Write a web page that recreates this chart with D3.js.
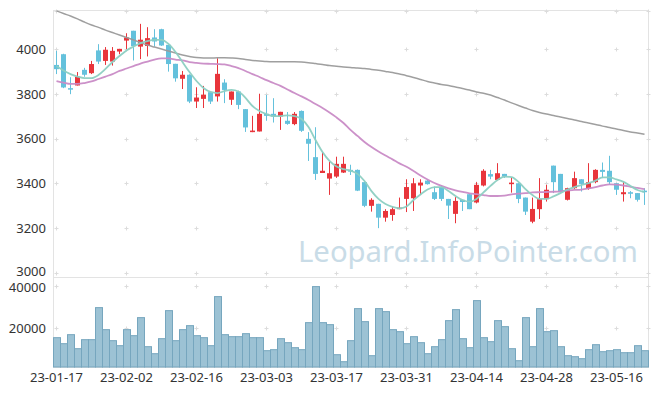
<!DOCTYPE html>
<html>
<head>
<meta charset="utf-8">
<script src="https://cdn.jsdelivr.net/npm/d3@7"></script>
<style>
  body { margin: 0; background: #fff; }
  text { font-family: "Noto Sans", sans-serif; }
</style>
</head>
<body>
<div id="chart"></div>
<script>
// trading days (yy-mm-dd)
const dates = [
  "23-01-17","23-01-18","23-01-19","23-01-20","23-01-25","23-01-26","23-01-27","23-01-30","23-01-31",
  "23-02-01","23-02-02","23-02-03","23-02-06","23-02-07","23-02-08","23-02-09","23-02-10","23-02-13","23-02-14",
  "23-02-15","23-02-16","23-02-17","23-02-20","23-02-21","23-02-22","23-02-23","23-02-24","23-02-27","23-02-28",
  "23-03-02","23-03-03","23-03-06","23-03-07","23-03-08","23-03-09","23-03-10","23-03-13","23-03-14","23-03-15",
  "23-03-16","23-03-17","23-03-20","23-03-21","23-03-22","23-03-23","23-03-24","23-03-27","23-03-28","23-03-29",
  "23-03-30","23-03-31","23-04-03","23-04-04","23-04-05","23-04-06","23-04-07","23-04-10","23-04-11","23-04-12",
  "23-04-13","23-04-14","23-04-17","23-04-18","23-04-19","23-04-20","23-04-21","23-04-24","23-04-25","23-04-26",
  "23-04-27","23-04-28","23-05-02","23-05-03","23-05-04","23-05-08","23-05-09","23-05-10","23-05-11","23-05-12",
  "23-05-15","23-05-16","23-05-17","23-05-18","23-05-19","23-05-22"
];

const opens = [3930,3978,3826,3838,3908,3893,3995,3948,3945,3990, 4039,4083,4012,4015,4053,4090,4020,3935,3868,3886,
  3766,3778,3808,3789,3851,3774,3811,3732,3629,3632, 3711,3711,3699,3680,3665,3724,3599,3517,3446,3421,
  3430,3448,3460,3460,3405,3299,3308,3246,3258,3284, 3330,3333,3390,3412,3360,3383,3330,3263,3326,3351,
  3314,3390,3441,3415,3442,3396,3400,3336,3228,3284, 3329,3479,3442,3326,3378,3418,3375,3405,3460,3456,
  3400,3351,3360,3356,3367];
const highs = [3993,3980,3875,3898,3917,3948,4023,4010,4010,4002, 4072,4083,4114,4099,4090,4092,4020,3935,3903,3888,
  3830,3836,3808,3960,3866,3811,3815,3732,3702,3801, 3796,3781,3720,3719,3719,3726,3629,3651,3539,3497,
  3519,3519,3483,3462,3405,3333,3308,3284,3296,3336, 3418,3423,3418,3418,3385,3392,3330,3338,3326,3351,
  3405,3463,3460,3490,3442,3427,3400,3336,3336,3423, 3393,3479,3442,3380,3452,3418,3490,3463,3493,3523,
  3400,3408,3365,3356,3378];
const lows = [3889,3826,3799,3838,3877,3889,3934,3930,3927,3978, 4001,3950,3956,3968,4012,4015,3900,3855,3822,3759,
  3737,3737,3755,3766,3759,3751,3732,3630,3629,3632, 3680,3672,3639,3662,3660,3630,3500,3415,3446,3348,
  3424,3446,3437,3365,3293,3273,3199,3228,3232,3284, 3271,3276,3348,3394,3325,3321,3240,3221,3276,3284,
  3310,3386,3418,3413,3424,3358,3311,3258,3221,3240, 3318,3356,3358,3323,3375,3363,3371,3400,3423,3393,
  3348,3318,3333,3318,3303];
const closes = [3911,3829,3820,3877,3886,3934,3945,3998,3993,4002, 4053,4014,4043,4050,4035,4017,3934,3870,3886,3766,
  3784,3797,3766,3890,3818,3811,3751,3650,3636,3711, 3702,3699,3720,3666,3711,3635,3577,3442,3456,3445,
  3487,3487,3452,3367,3299,3326,3246,3276,3284,3291, 3383,3400,3403,3396,3330,3330,3300,3321,3316,3284,
  3393,3456,3430,3445,3430,3403,3330,3273,3285,3329, 3371,3405,3360,3378,3423,3397,3405,3460,3451,3405,
  3371,3360,3353,3326,3360];
const volumes = [15360,12480,16800,10080,14400,14400,29760,19200,13920,11520, 19200,16320,24960,11040,7680,14880,28320,13920,19200,21120,
  16320,15360,11520,35040,16800,15840,15840,17280,15360,15360, 9120,9600,14880,12960,10560,9600,22560,39840,22560,21600,
  7200,3840,13920,29280,23040,6720,29280,27840,19200,18240, 12480,15840,12960,7680,11040,14400,23520,28800,14880,10560,
  33120,15360,13440,23520,20640,10080,4320,24960,11040,29280, 18240,18720,11040,6720,6240,5280,9600,12000,8640,9120,
  9600,8160,8160,11520,9120];

// moving averages as drawn
const ma5 = [3925,3905,3889,3878,3871,3871,3885,3912,3943,3970, 3995,4012,4028,4037,4042,4042,4024,3988,3943,3898,
  3858,3827,3809,3804,3813,3818,3811,3782,3746,3724, 3710,3701,3701,3704,3701,3688,3652,3594,3540,3500,
  3475,3463,3457,3442,3410,3365,3330,3307,3294,3288, 3296,3325,3350,3372,3383,3383,3365,3343,3325,3318,
  3330,3359,3388,3415,3430,3428,3406,3374,3347,3330, 3330,3341,3356,3372,3383,3392,3401,3412,3426,3426,
  3417,3406,3388,3370,3360];
const ma20 = [3858,3851,3845,3845,3849,3856,3867,3878,3889,3903, 3914,3925,3936,3945,3954,3959,3959,3954,3950,3943,
  3939,3936,3935,3934,3932,3925,3916,3903,3889,3876, 3862,3849,3836,3820,3804,3789,3773,3755,3737,3717,
  3695,3670,3639,3612,3585,3562,3542,3524,3507,3489, 3474,3455,3435,3417,3401,3388,3377,3368,3361,3355,
  3351,3347,3343,3343,3345,3350,3354,3356,3359,3360, 3361,3362,3364,3368,3370,3372,3377,3383,3390,3395,
  3394,3390,3384,3379,3374];
const ma60 = [4172,4160,4149,4136,4122,4109,4098,4086,4075,4064, 4053,4042,4030,4019,4010,4001,3992,3983,3974,3968,
  3963,3961,3961,3962,3962,3961,3959,3954,3950,3948, 3945,3944,3944,3944,3944,3943,3940,3936,3932,3927,
  3924,3921,3919,3916,3914,3910,3906,3901,3896,3889, 3882,3874,3865,3856,3849,3842,3838,3831,3824,3818,
  3809,3803,3795,3784,3773,3760,3748,3737,3726,3717, 3710,3704,3697,3690,3683,3677,3670,3663,3656,3650,
  3643,3636,3630,3625,3619];

const priceTicks = [3000, 3200, 3400, 3600, 3800, 4000];
const volumeTicks = [20000, 40000];
const dateTicks = ["23-01-17","23-02-02","23-02-16","23-03-03","23-03-17","23-03-31","23-04-14","23-04-28","23-05-16"];

const width = 657, height = 396;
const plotLeft = 53, plotRight = 648, plotTop = 10, plotSplit = 277.5, plotBottom = 367;

const svg = d3.select("#chart")
    .append("svg")
    .attr("width", width)
    .attr("height", height);

svg.append("defs").append("clipPath").attr("id", "clip")
    .append("rect").attr("x", plotLeft).attr("y", plotTop)
    .attr("width", plotRight - plotLeft).attr("height", plotSplit - plotTop);

// scales
const x = d3.scaleBand().domain(dates).range([plotLeft, plotRight]).padding(0);
const y = d3.scaleLinear().domain([2978, 4176]).range([plotSplit, plotTop]);
const yv = d3.scaleLinear().domain([1300, 44200]).range([plotBottom, plotSplit]);
const cx = d => x(d) + x.bandwidth() / 2;

// frame
const frame = "#e3e3e3";
svg.append("rect")
    .attr("x", plotLeft + 0.5).attr("y", plotTop + 0.5)
    .attr("width", plotRight - plotLeft).attr("height", plotBottom - plotTop)
    .attr("fill", "none").attr("stroke", frame);
svg.append("line")
    .attr("x1", plotLeft).attr("x2", plotRight + 1)
    .attr("y1", plotSplit).attr("y2", plotSplit)
    .attr("stroke", frame);

// small crosses where grid lines would meet
const gridX = dateTicks.map(cx).concat([plotRight + 0.5]);
const gridYPrice = priceTicks.map(y).concat([plotTop + 0.5]);
const gridYVol = volumeTicks.map(yv);
const crosses = [];
gridX.forEach(gx => {
    gridYPrice.concat(gridYVol).forEach(gy => crosses.push([gx, Math.round(gy) + 0.5]));
});
svg.append("g").selectAll("path")
    .data(crosses)
    .enter().append("path")
    .attr("d", d => `M${d[0] - 2},${d[1]}h4M${d[0]},${d[1] - 2}v4`)
    .attr("stroke", "#dcdcdc")
    .attr("stroke-width", 1);

// watermark
svg.append("text")
    .attr("x", 298)
    .attr("y", 262)
    .style("font-size", "29.3px")
    .attr("fill", "#c9dce7")
    .text("Leopard.InfoPointer.com");

// volume bars
svg.append("g").selectAll("rect")
    .data(dates)
    .enter().append("rect")
    .attr("x", d => x(d) + 0.5)
    .attr("width", x.bandwidth())
    .attr("y", (d, i) => yv(volumes[i]))
    .attr("height", (d, i) => plotBottom - yv(volumes[i]))
    .attr("fill", "#9cc2d4")
    .attr("stroke", "#76a6be")
    .attr("stroke-width", 1);

// candles
const up = "#e8353b", down = "#64c1dc";
const candle = svg.append("g").selectAll("g")
    .data(dates)
    .enter().append("g");

candle.append("line")
    .attr("x1", cx).attr("x2", cx)
    .attr("y1", (d, i) => y(highs[i]))
    .attr("y2", (d, i) => y(lows[i]))
    .attr("stroke", (d, i) => closes[i] >= opens[i] ? up : down)
    .attr("stroke-width", 1);

candle.append("rect")
    .attr("x", d => x(d) + 1)
    .attr("width", x.bandwidth() - 2)
    .attr("y", (d, i) => y(Math.max(opens[i], closes[i])))
    .attr("height", (d, i) => Math.max(1.5, Math.abs(y(opens[i]) - y(closes[i]))))
    .attr("fill", (d, i) => closes[i] >= opens[i] ? up : down);

// moving average lines
const line = arr => d3.line()
    .x(d => cx(d))
    .y((d, i) => y(arr[i]))
    .curve(d3.curveMonotoneX)(dates);

const maLines = svg.append("g").attr("clip-path", "url(#clip)");
[[ma60, "#9a9a9a", 1.5], [ma20, "#c98bc6", 1.8], [ma5, "#8ccfc2", 1.8]].forEach(([arr, color, w]) => {
    maLines.append("path")
        .attr("d", line(arr))
        .attr("fill", "none")
        .attr("stroke", color)
        .attr("stroke-width", w)
        .attr("opacity", 0.95);
});

// axes
const yAxis = svg.append("g")
    .attr("transform", `translate(${plotLeft},0)`)
    .call(d3.axisLeft(y).tickValues(priceTicks).tickSize(0).tickPadding(7).tickFormat(d3.format("d")));
const vAxis = svg.append("g")
    .attr("transform", `translate(${plotLeft},0)`)
    .call(d3.axisLeft(yv).tickValues(volumeTicks).tickSize(0).tickPadding(7).tickFormat(d3.format("d")));
const xAxis = svg.append("g")
    .attr("transform", `translate(0,${plotBottom})`)
    .call(d3.axisBottom(x).tickValues(dateTicks).tickSize(0).tickPadding(5.5));

[yAxis, vAxis, xAxis].forEach(g => {
    g.select(".domain").remove();
    g.selectAll("text")
        .style("font-size", "13px")
        .style("font-family", "'Noto Sans', sans-serif")
        .attr("fill", "#333");
});

// the 3000 and 40000 labels sit close together at the panel split
yAxis.selectAll("text").filter(d => d === 3000).attr("dy", "0.2em");
vAxis.selectAll("text").filter(d => d === 40000).attr("dy", "0.44em");
</script>
</body>
</html>
